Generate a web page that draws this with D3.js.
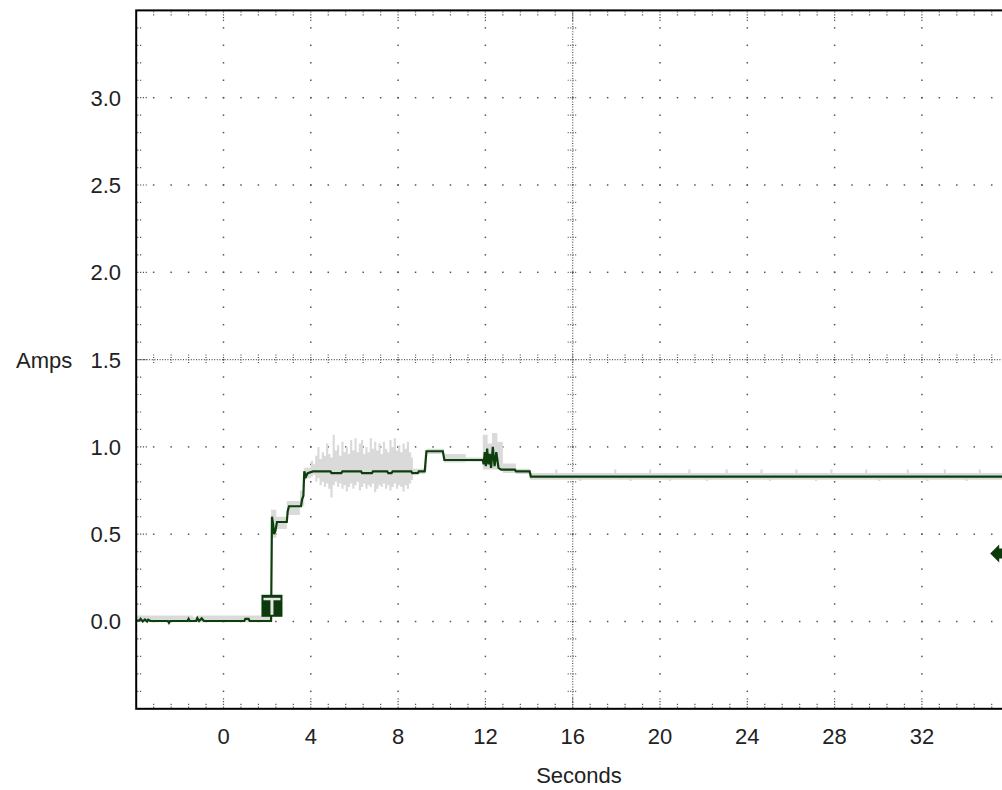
<!DOCTYPE html>
<html><head><meta charset="utf-8">
<script src="https://cdn.jsdelivr.net/npm/d3@7/dist/d3.min.js"></script>
<style>html,body{margin:0;padding:0;background:#fff;overflow:hidden}</style>
</head><body>
<svg id="chart" width="1002" height="790"></svg>
<script>
// ---- data ----
const xDomain = [-4, 36];
const yDomain = [-0.5, 3.5];
const xTickLabels = [0, 4, 8, 12, 16, 20, 24, 28, 32];
const yTickLabels = [0.0, 0.5, 1.0, 1.5, 2.0, 2.5, 3.0];
const xTitle = "Seconds";
const yTitle = "Amps";
const centerX = 16, centerY = 1.5;
const triggerTime = 2.22, triggerMarkLevel = 0.09;
const thresholdLevel = 0.39;

// main trace [seconds, amps]
const trace = [
[-4.0,0.005],[-3.85,0.005],[-3.8,0.015],[-3.7,0.0],[-3.6,0.012],[-3.5,0.0],[-3.45,0.01],[-3.35,0.003],
[-2.55,0.003],[-2.5,-0.008],[-2.45,0.003],[-1.65,0.003],[-1.6,0.015],[-1.55,0.003],[-1.25,0.003],
[-1.2,0.02],[-1.12,0.003],[-1.0,0.018],[-0.9,0.003],[0.95,0.003],[1.0,0.015],[1.15,0.015],[1.2,0.003],
[2.18,0.003],[2.22,0.60],[2.27,0.56],[2.32,0.50],[2.38,0.52],[2.45,0.57],[2.9,0.57],[2.94,0.63],
[3.0,0.66],[3.55,0.66],[3.6,0.70],[3.66,0.72],[3.7,0.86],[3.78,0.83],[3.86,0.85],[4.1,0.86],
[4.9,0.86],[4.95,0.85],[5.4,0.85],[5.45,0.86],[6.3,0.86],[6.35,0.85],[6.8,0.85],[6.85,0.86],
[7.5,0.86],[7.55,0.85],[7.7,0.85],[7.75,0.86],[8.6,0.86],[8.65,0.85],[8.9,0.85],[8.95,0.86],
[9.22,0.86],[9.3,0.975],[10.05,0.975],[10.12,0.925],[11.88,0.925],[11.92,0.90],[11.97,0.97],
[12.02,0.89],[12.08,0.99],[12.14,0.90],[12.2,0.96],[12.26,0.88],[12.34,1.0],[12.42,0.89],
[12.5,0.97],[12.6,0.88],[12.72,0.87],[13.35,0.87],[13.4,0.86],[14.03,0.86],[14.08,0.83],[36,0.83]
];

// min/max envelope [seconds, min, max]
const envelope = [
[-4.0,-0.005,0.035],[-1.4,-0.005,0.025],[-1.2,-0.005,0.035],[2.18,0.0,0.03],
[2.18,0.48,0.64],[2.42,0.53,0.60],[2.9,0.61,0.69],[3.5,0.66,0.75],[3.7,0.82,0.88],
[4.0,0.83,0.92],[4.1,0.84,0.90],[4.2,0.80,0.95],[4.3,0.82,1.00],[4.4,0.78,0.93],[4.5,0.80,0.97],
[4.6,0.77,0.95],[4.7,0.79,1.02],[4.8,0.76,0.96],[4.9,0.71,0.94],[5.0,0.78,1.07],[5.1,0.80,0.98],
[5.2,0.77,1.01],[5.3,0.79,0.95],[5.4,0.76,1.03],[5.5,0.78,0.97],[5.6,0.745,1.00],[5.7,0.77,0.96],
[5.8,0.79,1.04],[5.9,0.76,0.98],[6.0,0.78,1.05],[6.1,0.80,0.97],[6.2,0.75,1.02],[6.3,0.77,1.04],
[6.4,0.79,0.96],[6.5,0.76,1.00],[6.6,0.78,0.97],[6.7,0.77,1.05],[6.8,0.79,0.99],[6.9,0.74,1.03],
[7.0,0.76,0.98],[7.1,0.78,1.02],[7.2,0.77,0.96],[7.3,0.79,1.03],[7.4,0.76,0.99],[7.5,0.78,0.97],
[7.6,0.75,1.04],[7.7,0.77,1.00],[7.8,0.79,1.05],[7.9,0.76,0.98],[8.0,0.78,1.01],[8.1,0.77,0.97],
[8.2,0.745,1.02],[8.3,0.78,0.99],[8.4,0.76,1.03],[8.5,0.79,0.97],[8.6,0.81,0.94],[8.68,0.845,0.875],
[9.22,0.86,0.98],[9.3,0.96,0.99],[10.1,0.91,0.96],[11.1,0.915,0.94],[11.88,0.87,1.07],[12.1,0.87,1.02],
[12.3,0.87,1.08],[12.55,0.87,1.03],[12.8,0.85,0.905],[13.4,0.845,0.875],[14.05,0.812,0.85],
[15.2,0.812,0.87],[15.3,0.812,0.85],[16.3,0.805,0.85],[16.4,0.812,0.85],[17.9,0.812,0.87],
[18.0,0.812,0.85],[18.6,0.805,0.85],[18.7,0.812,0.85],[19.5,0.812,0.87],[19.6,0.812,0.85],
[20.4,0.805,0.85],[20.5,0.812,0.85],[21.3,0.812,0.87],[21.4,0.812,0.85],[22.1,0.805,0.85],
[22.2,0.812,0.85],[23.0,0.812,0.87],[23.1,0.812,0.85],[24.6,0.812,0.87],[24.7,0.812,0.85],
[25.0,0.805,0.85],[25.1,0.812,0.85],[26.2,0.812,0.87],[26.3,0.812,0.85],[27.1,0.805,0.85],
[27.2,0.812,0.85],[27.8,0.812,0.87],[27.9,0.812,0.85],[29.4,0.812,0.87],[29.5,0.812,0.85],
[30.0,0.805,0.85],[30.1,0.812,0.85],[31.3,0.812,0.87],[31.4,0.812,0.85],[32.2,0.805,0.85],
[32.3,0.812,0.85],[33.0,0.812,0.87],[33.1,0.812,0.85],[34.0,0.805,0.85],[34.1,0.812,0.85],
[34.6,0.812,0.87],[34.7,0.812,0.85],[36,0.812,0.85]
];

// ---- drawing ----
const svg = d3.select("#chart");
const L = 136.2, R = 1009.2, T = 10.4, B = 708.8;
const x = d3.scaleLinear().domain(xDomain).range([L, R]);
const y = d3.scaleLinear().domain(yDomain).range([B, T]);
const FONT = "'Liberation Sans', Arial, Helvetica, sans-serif";
const FS = 22;
const gridCol = "#555";

const minorX = d3.range(0, 51).map(i => xDomain[0] + i * 0.8);
const minorY = d3.range(0, 41).map(i => yDomain[0] + i * 0.1);
const majorX = d3.range(0, 11).map(i => xDomain[0] + i * 4);
const majorY = d3.range(0, 9).map(i => yDomain[0] + i * 0.5);
const near = (a, b) => Math.abs(a - b) < 1e-6;

svg.append("defs").append("clipPath").attr("id", "clip")
  .append("rect").attr("x", L).attr("y", T).attr("width", R - L).attr("height", B - T);

const grid = svg.append("g");
majorX.forEach(mx => {
  if (near(mx, xDomain[0]) || near(mx, xDomain[1]) || near(mx, centerX)) return;
  minorY.forEach(my => {
    if (near(my, yDomain[0]) || near(my, yDomain[1])) return;
    grid.append("rect").attr("x", x(mx) - 0.75).attr("y", y(my) - 0.75)
      .attr("width", 1.5).attr("height", 1.5).attr("fill", gridCol);
  });
});
majorY.forEach(my => {
  if (near(my, yDomain[0]) || near(my, yDomain[1]) || near(my, centerY)) return;
  minorX.forEach(mx => {
    if (near(mx, xDomain[0]) || near(mx, xDomain[1])) return;
    grid.append("rect").attr("x", x(mx) - 0.75).attr("y", y(my) - 0.75)
      .attr("width", 1.5).attr("height", 1.5).attr("fill", gridCol);
  });
});
grid.append("line").attr("x1", x(centerX)).attr("x2", x(centerX)).attr("y1", T).attr("y2", B)
  .attr("stroke", gridCol).attr("stroke-width", 1.2).attr("stroke-dasharray", "1,1.6");
grid.append("line").attr("x1", L).attr("x2", R).attr("y1", y(centerY)).attr("y2", y(centerY))
  .attr("stroke", gridCol).attr("stroke-width", 1.2).attr("stroke-dasharray", "1,1.6");
minorY.forEach(my => {
  if (near(my, yDomain[0]) || near(my, yDomain[1])) return;
  grid.append("line").attr("x1", x(centerX) - 5).attr("x2", x(centerX) + 5)
    .attr("y1", y(my)).attr("y2", y(my))
    .attr("stroke", gridCol).attr("stroke-width", 1.2).attr("stroke-dasharray", "1,1.5");
});
minorX.forEach(mx => {
  if (near(mx, xDomain[0]) || near(mx, xDomain[1])) return;
  grid.append("line").attr("x1", x(mx)).attr("x2", x(mx))
    .attr("y1", y(centerY) - 5).attr("y2", y(centerY) + 5)
    .attr("stroke", gridCol).attr("stroke-width", 1.2).attr("stroke-dasharray", "1,1.5");
});
minorX.forEach((mx, i) => {
  if (i === 0 || i === minorX.length - 1) return;
  const len = (i % 5 === 0) ? 10 : 5;
  grid.append("line").attr("x1", x(mx)).attr("x2", x(mx)).attr("y1", T + 1).attr("y2", T + 1 + len)
    .attr("stroke", gridCol).attr("stroke-width", 1.2).attr("stroke-dasharray", "1.2,1.6");
  grid.append("line").attr("x1", x(mx)).attr("x2", x(mx)).attr("y1", B - 1).attr("y2", B - 1 - len)
    .attr("stroke", gridCol).attr("stroke-width", 1.2).attr("stroke-dasharray", "1.2,1.6");
});
minorY.forEach((my, i) => {
  if (i === 0 || i === minorY.length - 1) return;
  const len = (i % 5 === 0) ? 10 : 5;
  grid.append("line").attr("x1", L + 1).attr("x2", L + 1 + len).attr("y1", y(my)).attr("y2", y(my))
    .attr("stroke", gridCol).attr("stroke-width", 1.2).attr("stroke-dasharray", "1.2,1.6");
});

// data
const plot = svg.append("g").attr("clip-path", "url(#clip)");
plot.append("path").datum(envelope)
  .attr("d", d3.area().x(d => x(d[0])).y0(d => y(d[1])).y1(d => y(d[2])).curve(d3.curveStepAfter))
  .attr("fill", "#dadada");
plot.append("path").datum(trace)
  .attr("d", d3.line().x(d => x(d[0])).y(d => y(d[1])))
  .attr("fill", "none").attr("stroke", "#0d3f0d").attr("stroke-width", 2.2).attr("stroke-linejoin", "miter");

// trigger marker "T"
const tx = x(triggerTime), ty = y(triggerMarkLevel);
const tm = svg.append("g");
tm.append("rect").attr("x", tx - 10.5).attr("y", ty - 11).attr("width", 21).attr("height", 22).attr("fill", "#0b3a0b");
tm.append("rect").attr("x", tx - 8.5).attr("y", ty - 8).attr("width", 17).attr("height", 2.5).attr("fill", "#e6e6e6");
tm.append("rect").attr("x", tx - 1.5).attr("y", ty - 6).attr("width", 3).attr("height", 15).attr("fill", "#e6e6e6");

// threshold marker on the right
const ly = y(thresholdLevel), lx = x(xDomain[1]) - 19;
svg.append("path")
  .attr("d", `M${lx},${ly} L${lx + 9},${ly - 9} L${lx + 9},${ly - 5} L${lx + 25},${ly - 5} L${lx + 25},${ly + 5} L${lx + 9},${ly + 5} L${lx + 9},${ly + 9} Z`)
  .attr("fill", "#0b3a0b");

// frame
svg.append("rect").attr("x", L).attr("y", T).attr("width", R - L).attr("height", B - T)
  .attr("fill", "none").attr("stroke", "#000").attr("stroke-width", 2);

// labels
svg.append("g").selectAll("text").data(yTickLabels).join("text")
  .attr("x", 121).attr("y", d => y(d)).attr("dy", "0.36em").attr("text-anchor", "end")
  .attr("font-family", FONT).attr("font-size", FS).attr("fill", "#222").text(d => d.toFixed(1));
svg.append("g").selectAll("text").data(xTickLabels).join("text")
  .attr("x", d => x(d)).attr("y", 744).attr("text-anchor", "middle")
  .attr("font-family", FONT).attr("font-size", FS).attr("fill", "#222").text(d => d);
svg.append("text").attr("x", 579).attr("y", 783).attr("text-anchor", "middle")
  .attr("font-family", FONT).attr("font-size", FS).attr("fill", "#222").text(xTitle);
svg.append("text").attr("x", 16).attr("y", y(centerY)).attr("dy", "0.36em")
  .attr("font-family", FONT).attr("font-size", FS).attr("fill", "#222").text(yTitle);
</script>
</body></html>
